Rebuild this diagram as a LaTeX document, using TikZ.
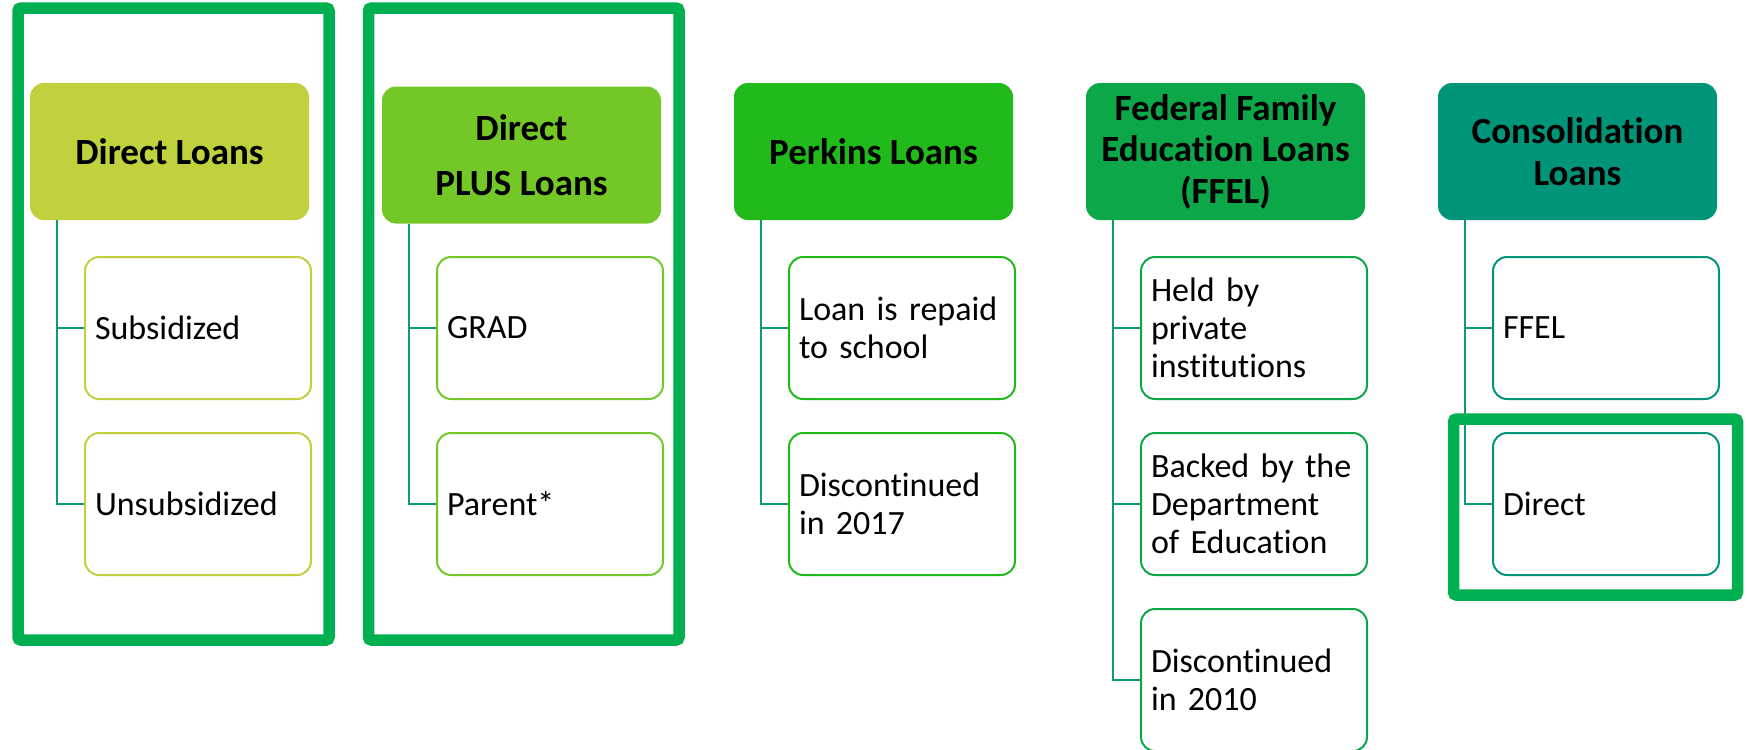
\documentclass[tikz,border=0pt]{standalone}
\usepackage{fontspec}
\setmainfont{Carlito}[Ligatures=NoCommon]
\usepackage{xcolor}
\definecolor{colDirect}{HTML}{C0D13D}
\definecolor{colPlus}{HTML}{73C726}
\definecolor{colPerkins}{HTML}{21BA1B}
\definecolor{colFfel}{HTML}{0CA748}
\definecolor{colConsol}{HTML}{009578}
\definecolor{colLink}{HTML}{0E9A7A}
\definecolor{colMark}{HTML}{00B050}

\begin{document}
\begin{tikzpicture}[x=0.5pt,y=-0.5pt,
  head/.style={rounded corners=7pt, minimum width=139.5pt, minimum height=68.5pt, align=center, inner sep=2pt, font=\fontsize{18.5}{20.7}\selectfont\bfseries},
  item/.style={draw, line width=1pt, rounded corners=7pt, fill=white, text width=103pt, inner xsep=5pt, minimum height=71pt, align=left, font=\fontsize{17}{19}\selectfont},
  link/.style={draw=colLink, line width=1pt},
  hilite/.style={draw=colMark, line width=5.75pt, rounded corners=1.5pt}]
\useasboundingbox (0,0) rectangle (1747,750);

% Loan type headers
\node[head, fill=colDirect] (direct) at (169.5,151.5) {Direct Loans};
\node[head, fill=colPlus] (plus) at (521.5,155) {Direct\\[7pt]PLUS Loans};
\node[head, fill=colPerkins] (perkins) at (873.5,151.5) {Perkins Loans};
\node[head, fill=colFfel] (ffel) at (1225.5,151.5) {Federal Family\\Educat\kern0pt ion Loans\\(FFEL)};
\node[head, fill=colConsol] (consol) at (1577.5,151.5) {Consolidat\kern0pt ion\\Loans};

% Sub items
\node[item, draw=colDirect] (sub) at (198,328) {Subsidized};
\node[item, draw=colDirect] (unsub) at (198,504) {Unsubsidized};
\node[item, draw=colPlus] (grad) at (550,328) {GRAD};
\node[item, draw=colPlus] (parent) at (550,504) {Parent*};
\node[item, draw=colPerkins] (repaid) at (902,328) {Loan is repaid\\to school};
\node[item, draw=colPerkins] (disc17) at (902,504) {Discont\kern0pt inued\\in 2017};
\node[item, draw=colFfel] (held) at (1254,328) {Held by\\private\\inst\kern0pt itut\kern0pt ions};
\node[item, draw=colFfel] (backed) at (1254,504) {Backed by the\\Department\\of Educat\kern0pt ion};
\node[item, draw=colFfel] (disc10) at (1254,680) {Discont\kern0pt inued\\in 2010};
\node[item, draw=colConsol] (cffel) at (1606,328) {FFEL};
\node[item, draw=colConsol] (cdirect) at (1606,504) {Direct};

% Connectors
\draw[link] ([xshift=13.5pt]direct.south west) |- (sub.west);
\draw[link] ([xshift=13.5pt]direct.south west) |- (unsub.west);
\draw[link] ([xshift=13.5pt]plus.south west) |- (grad.west);
\draw[link] ([xshift=13.5pt]plus.south west) |- (parent.west);
\draw[link] ([xshift=13.5pt]perkins.south west) |- (repaid.west);
\draw[link] ([xshift=13.5pt]perkins.south west) |- (disc17.west);
\draw[link] ([xshift=13.5pt]ffel.south west) |- (held.west);
\draw[link] ([xshift=13.5pt]ffel.south west) |- (backed.west);
\draw[link] ([xshift=13.5pt]ffel.south west) |- (disc10.west);
\draw[link] ([xshift=13.5pt]consol.south west) |- (cffel.west);
\draw[link] ([xshift=13.5pt]consol.south west) |- (cdirect.west);

% Highlight frames
\draw[hilite] (18,8) rectangle (329,640);
\draw[hilite] (368.5,8) rectangle (679,640);
\draw[hilite] (1453.5,419) rectangle (1737.5,595);
\end{tikzpicture}
\end{document}
